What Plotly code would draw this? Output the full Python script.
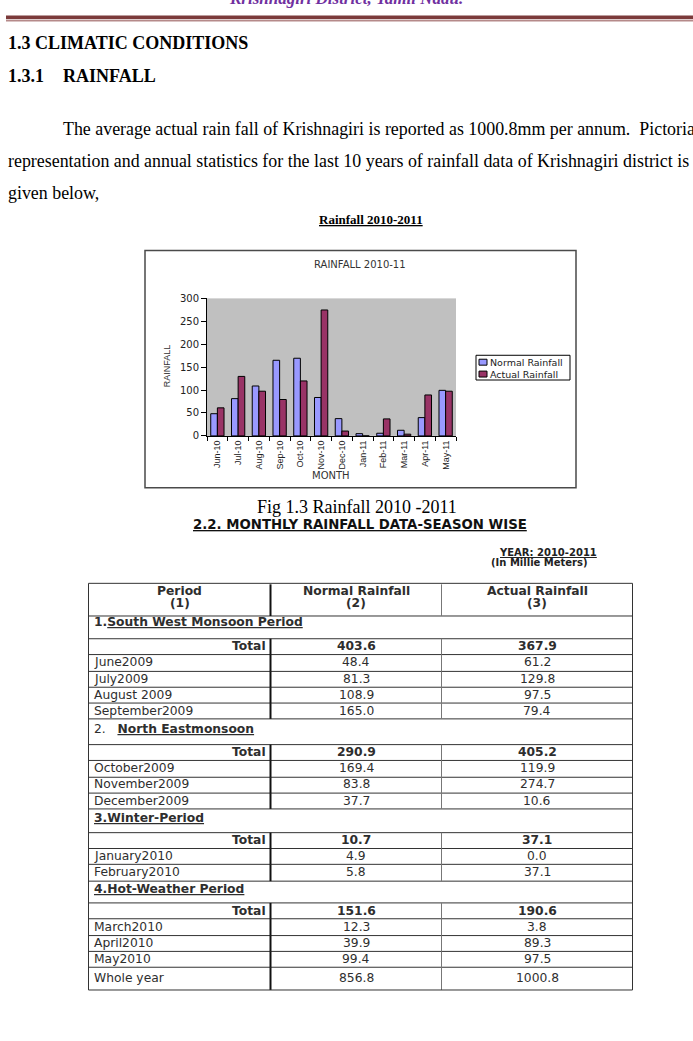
import plotly.graph_objects as go

W, H = 693, 1041

# ---------------- data ----------------
months = ["Jun-10", "Jul-10", "Aug-10", "Sep-10", "Oct-10", "Nov-10",
          "Dec-10", "Jan-11", "Feb-11", "Mar-11", "Apr-11", "May-11"]
normal_rainfall = [48.4, 81.3, 108.9, 165.0, 169.4, 83.8, 37.7, 4.9, 5.8, 12.3, 39.9, 99.4]
actual_rainfall = [61.2, 129.8, 97.5, 79.4, 119.9, 274.7, 10.6, 0.0, 37.1, 3.8, 89.3, 97.5]
y_ticks = [0, 50, 100, 150, 200, 250, 300]

table_month_labels = ["June2009", "July2009", "August 2009", "September2009",
                      "October2009", "November2009", "December2009",
                      "January2010", "February2010",
                      "March2010", "April2010", "May2010"]
season_names = ["South West Monsoon Period", "North Eastmonsoon", "Winter-Period", "Hot-Weather Period"]
season_month_index = [[0, 1, 2, 3], [4, 5, 6], [7, 8], [9, 10, 11]]
season_normal_total = [403.6, 290.9, 10.7, 151.6]
season_actual_total = [367.9, 405.2, 37.1, 190.6]
whole_year_normal = 856.8
whole_year_actual = 1000.8
table_header = [("Period", "(1)"), ("Normal Rainfall", "(2)"), ("Actual Rainfall", "(3)")]

# ---------------- helpers ----------------
def X(p):
    return p / W

def Y(p):
    return 1 - p / H

SERIF = "Liberation Serif"
SANS = "DejaVu Sans"
ARIAL = "Liberation Sans"

annotations = []
shapes = []

def text(x, y, s, size, family=SERIF, color="#000000", xanchor="left", textangle=0):
    # compensate the annotation's inner padding so text starts/ends at x
    dx = {"left": -2, "right": 2, "center": 0}[xanchor]
    annotations.append(dict(
        x=X(x + dx), y=Y(y), xref="paper", yref="paper", text=s, showarrow=False,
        xanchor=xanchor, yanchor="middle", textangle=textangle,
        font=dict(size=size, family=family, color=color)))

def line(x0, y0, x1, y1, color="#000", width=1):
    shapes.append(dict(type="line", xref="paper", yref="paper",
                       x0=X(x0), y0=Y(y0), x1=X(x1), y1=Y(y1),
                       line=dict(color=color, width=width)))

def rect(x0, y0, x1, y1, fill=None, color="#000", width=1, layer="above"):
    shapes.append(dict(type="rect", xref="paper", yref="paper",
                       x0=X(x0), y0=Y(y0), x1=X(x1), y1=Y(y1), layer=layer,
                       fillcolor=fill if fill else "rgba(0,0,0,0)",
                       line=dict(color=color, width=width)))

# ---------------- page header & text ----------------
text(346, -8, "<b><i>Krishnagiri District, Tamil Nadu.</i></b>", 17, SERIF, "#7030A0", "center")
rect(6, 9.5, 693, 13.5, fill="#7b3a3a", color="#7b3a3a", width=0)
line(6, 15, 693, 15, "#b58a8a", 1.5)

text(8, 37, "<b>1.3 CLIMATIC CONDITIONS</b>", 18)
text(8, 71, "<b>1.3.1</b>", 18)
text(63, 71, "<b>RAINFALL</b>", 18)
text(63, 124, "The average actual rain fall of Krishnagiri is reported as 1000.8mm per annum.\u00a0 Pictorial", 17.9)
text(8, 157, "representation and annual statistics for the last 10 years of rainfall data of Krishnagiri district is", 17.9)
text(8, 189.5, "given below,", 17.9)

text(371, 216, "<b><u>Rainfall 2010-2011</u></b>", 13, SERIF, "#000", "center")

# ---------------- chart ----------------
PX0, PX1, PY0, PY1 = 207, 456, 295.5, 434.5
rect(145, 247, 576, 487, color="#4a4a4a", width=1.5)
text(360, 261.5, "RAINFALL 2010-11", 10, SANS, "#333", "center")
text(167, 364, "RAINFALL", 9, ARIAL, "#333", "center", textangle=-90)
text(331, 474.5, "MONTH", 10, SANS, "#333", "center")

# legend (manual)
rect(476, 353, 570, 378, fill="#ffffff", color="#000", width=1)
rect(479, 357, 487, 363, fill="#9999FF", color="#000", width=1)
rect(479, 369, 487, 375, fill="#993366", color="#000", width=1)
text(490, 360, "Normal Rainfall", 9.5, SANS, "#222")
text(490, 372, "Actual Rainfall", 9.5, SANS, "#222")

text(357, 506, "Fig 1.3 Rainfall 2010 -2011", 18, SERIF, "#000", "center")

fig = go.Figure()
fig.add_trace(go.Bar(x=months, y=normal_rainfall, name="Normal Rainfall",
                     marker=dict(color="#9999FF", line=dict(color="#000", width=1)),
                     showlegend=False))
fig.add_trace(go.Bar(x=months, y=actual_rainfall, name="Actual Rainfall",
                     marker=dict(color="#993366", line=dict(color="#000", width=1)),
                     showlegend=False))

# ---------------- table section ----------------
text(360, 524, "<b><u>2.2. MONTHLY RAINFALL DATA-SEASON WISE</u></b>", 13.3, SANS, "#111", "center")
text(548, 552, "<b><u>YEAR: 2010-2011</u></b>", 10, SANS, "#222", "center")
text(539, 562, "<b>(In Millie Meters)</b>", 10, SANS, "#222", "center")

TX = [88.5, 270.5, 441.5, 632.5]
TOP = 583.5
row_h = {"header": 32, "total": 16.3, "month": 16.3, "whole": 23}
section_h = [23.5, 25.5, 23.5, 22.5]
section_text_off = [7.5, 10.5, 9.5, 9]
rows = [("header", None)]
for si in range(len(season_names)):
    rows.append(("section", si))
    rows.append(("total", si))
    for mi in season_month_index[si]:
        rows.append(("month", mi))
rows.append(("whole", None))

col_c = [(TX[0] + TX[1]) / 2, (TX[1] + TX[2]) / 2, (TX[2] + TX[3]) / 2]
TFS = 12.3
tc = "#2e2e2e"

y = TOP
bounds = []
for kind, idx in rows:
    h = section_h[idx] if kind == "section" else row_h[kind]
    y0, y1 = y, y + h
    bounds.append((kind, y0, y1))
    cy = (y0 + y1) / 2
    if kind == "header":
        for c, (a, b) in enumerate(table_header):
            text(col_c[c], y0 + 7.5, f"<b>{a}</b>", TFS, SANS, tc, "center")
            text(col_c[c], y0 + 20, f"<b>{b}</b>", TFS, SANS, tc, "center")
    elif kind == "section":
        nm = season_names[idx]
        if idx == 0:
            s = f"<b>{idx+1}.<u>{nm}</u></b>"
        elif idx == 1:
            s = f"{idx+1}.\u00a0\u00a0\u00a0<b><u>{nm}</u></b>"
        else:
            s = f"<b><u>{idx+1}.{nm}</u></b>"
        text(TX[0] + 5, y0 + section_text_off[idx], s, TFS, SANS, tc)
    elif kind == "total":
        text(TX[1] - 5, cy, "<b>Total</b>", TFS, SANS, tc, "right")
        text(col_c[1], cy, f"<b>{season_normal_total[idx]:.1f}</b>", TFS, SANS, tc, "center")
        text(col_c[2], cy, f"<b>{season_actual_total[idx]:.1f}</b>", TFS, SANS, tc, "center")
    elif kind == "month":
        text(TX[0] + 5, cy, table_month_labels[idx], TFS, SANS, tc)
        text(col_c[1], cy, f"{normal_rainfall[idx]:.1f}", TFS, SANS, tc, "center")
        text(col_c[2], cy, f"{actual_rainfall[idx]:.1f}", TFS, SANS, tc, "center")
    elif kind == "whole":
        text(TX[0] + 5, cy, "Whole year", TFS, SANS, tc)
        text(col_c[1], cy, f"{whole_year_normal:.1f}", TFS, SANS, tc, "center")
        text(col_c[2], cy, f"{whole_year_actual:.1f}", TFS, SANS, tc, "center")
    y = y1

BOTTOM = y
# horizontal rules as one path (snapped to half pixels for crisp 1px lines)
hpath = ""
for kind, y0, y1 in bounds[1:]:
    yy = round(y0) + 0.5
    hpath += f"M{X(TX[0])},{Y(yy)} L{X(TX[3])},{Y(yy)} "
shapes.append(dict(type="path", xref="paper", yref="paper", path=hpath,
                   line=dict(color="#333333", width=1)))
# vertical lines (not across section rows)
for kind, y0, y1 in bounds:
    if kind != "section":
        line(TX[1], round(y0) + 0.5, TX[1], round(y1) + 0.5, "#111", 2)
        line(TX[2], round(y0) + 0.5, TX[2], round(y1) + 0.5, "#777", 1)
rect(TX[0], TOP, TX[3], round(BOTTOM) + 0.5, color="#333", width=1)

fig.update_layout(
    width=W, height=H,
    margin=dict(l=0, r=0, t=0, b=0),
    paper_bgcolor="#ffffff",
    plot_bgcolor="#C0C0C0",
    barmode="group", bargap=0.36, bargroupgap=0,
    xaxis=dict(domain=[X(PX0), X(PX1)], type="category", tickangle=-90,
               tickfont=dict(size=9, family=ARIAL, color="#222"),
               showline=True, linecolor="#000", linewidth=1,
               ticks="outside", tickson="boundaries", ticklen=4, tickcolor="#000",
               showgrid=False, fixedrange=True),
    yaxis=dict(domain=[Y(PY1), Y(PY0)], range=[0, 300], tickvals=y_ticks,
               tickfont=dict(size=10, family=SANS, color="#222"),
               showline=True, linecolor="#000", linewidth=1,
               ticks="outside", ticklen=5, tickcolor="#000",
               showgrid=False, zeroline=False, fixedrange=True),
    annotations=annotations,
    shapes=shapes,
)

fig.write_html("out.html")
